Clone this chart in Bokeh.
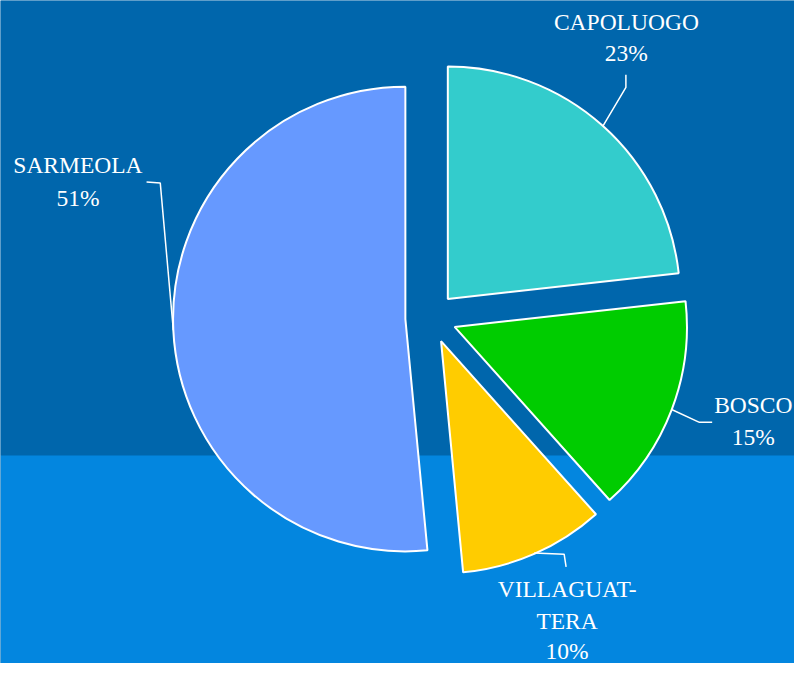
import math
from bokeh.plotting import figure
from bokeh.models import Range1d, ColumnDataSource
from bokeh.core.properties import value
from bokeh.embed import file_html
from bokeh.resources import INLINE

# ---- data ----
categories = ["CAPOLUOGO", "BOSCO", "VILLAGUATTERA", "SARMEOLA"]
percents = [23, 15, 10, 51]
label_lines = [["CAPOLUOGO", "23%"], ["BOSCO", "15%"], ["VILLAGUAT-", "TERA", "10%"], ["SARMEOLA", "51%"]]
colors = ["#33CCCC", "#00CC00", "#FFCC00", "#6699FF"]

# ---- layout (reference pixel space, y measured from top) ----
W, H = 810, 679
def Y(y):
    return H - y

cx, cy = 439.0, Y(325.0)
R = 237.0
EXPLODE = 26.0
TEXT_SHIFT = 8.5  # renderer places alphabetic baseline lower; compensate

label_pos = [  # x centre, baselines
    (638.5, [31, 62]),
    (768.0, [423, 456]),
    (578.0, [611, 644, 675]),
    (79.0, [177, 211]),
]
leader_bends = [
    [(638, 89), (638, 76)],
    [(713, 432), (726, 432)],
    [(575, 567), (577, 580)],
    [(163, 187), (149, 186)],
]

p = figure(width=794, height=663, output_backend="svg", toolbar_location=None,
           x_range=Range1d(0, W), y_range=Range1d(0, H), min_border=0)
p.axis.visible = False
p.grid.visible = False
p.outline_line_color = None
p.background_fill_color = "#0066AC"
p.border_fill_color = "#0066AC"

# background bands
p.quad(left=[0, 0], right=[W, W], bottom=[Y(466), 0], top=[H, Y(466)],
       fill_color=["#0066AC", "#0386DF"], line_color=None)

total = float(sum(percents))
acc = 0.0
xs, ys, sa, ea = [], [], [], []
lx, ly = [], []
for i, v in enumerate(percents):
    t0 = acc / total * 360.0
    acc += v
    t1 = acc / total * 360.0
    mid = math.radians((t0 + t1) / 2.0)
    ox = cx + EXPLODE * math.sin(mid)
    oy = cy + EXPLODE * math.cos(mid)
    xs.append(ox); ys.append(oy)
    sa.append(math.radians(90 - t0)); ea.append(math.radians(90 - t1))
    sx = ox + R * math.sin(mid)
    sy = oy + R * math.cos(mid)
    px = [sx] + [b[0] for b in leader_bends[i]]
    py = [sy] + [Y(b[1]) for b in leader_bends[i]]
    lx.append(px); ly.append(py)

src = ColumnDataSource(dict(x=xs, y=ys, start=sa, end=ea, color=colors, cat=categories))
p.wedge(x="x", y="y", radius=R, start_angle="start", end_angle="end", direction="clock",
        fill_color="color", line_color="white", line_width=2, source=src)

p.multi_line(xs=lx, ys=ly, line_color="white", line_width=1.5)

tx, ty, tt = [], [], []
for (x0, bls), lines in zip(label_pos, label_lines):
    for b, t in zip(bls, lines):
        tx.append(x0); ty.append(Y(b - TEXT_SHIFT)); tt.append(t)
p.text(x=tx, y=ty, text=tt, text_align="center", text_baseline="alphabetic",
       text_color="white", text_font=value("Liberation Serif"), text_font_size="23.5px")

open("out.html", "w").write(file_html(p, INLINE))
